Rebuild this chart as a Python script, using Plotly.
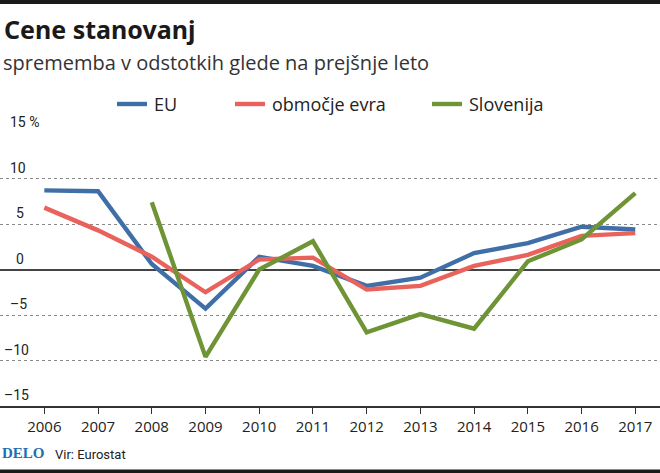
import plotly.graph_objects as go

years = list(range(2006, 2018))
eu = [8.7, 8.6, 0.6, -4.3, 1.4, 0.4, -1.8, -0.9, 1.8, 2.9, 4.7, 4.4]
euro_area = [6.8, 4.3, 1.4, -2.5, 1.1, 1.3, -2.2, -1.8, 0.4, 1.6, 3.7, 4.0]
slo_years = list(range(2008, 2018))
slovenia = [7.4, -9.6, 0.0, 3.1, -6.9, -4.9, -6.5, 0.9, 3.3, 8.4]
ytick_vals = [15, 10, 5, 0, -5, -10, -15]
ytick_text = ["15 %", "10", "5", "0", "–5", "–10", "–15"]

names = ["EU", "območje evra", "Slovenija"]
colors = ["#3f6fa6", "#ea625c", "#6f9436"]

W, H = 660, 473
T, B = 133, 406
PH = B - T

def px(x):
    return x / W

def py(y):
    return (B - y) / PH

fig = go.Figure()
for xs, ys, nm, c in [(years, eu, names[0], colors[0]),
                      (years, euro_area, names[1], colors[1]),
                      (slo_years, slovenia, names[2], colors[2])]:
    fig.add_trace(go.Scatter(x=xs, y=ys, name=nm, mode="lines",
                             line=dict(color=c, width=4.4), showlegend=False))

ann = []
shapes = []
# title / subtitle
ann.append(dict(text="<b>Cene stanovanj</b>", x=px(2), y=py(29), xanchor="left", yanchor="middle",
                font=dict(family="Noto Sans", size=25, color="#1a1a1a")))
ann.append(dict(text="sprememba v odstotkih glede na prejšnje leto", x=px(1), y=py(62),
                xanchor="left", yanchor="middle",
                font=dict(family="Open Sans", size=20, color="#333333")))
# legend
leg_x = [117, 235, 432]
for lx, nm, c in zip(leg_x, names, colors):
    shapes.append(dict(type="line", xref="paper", yref="paper", x0=px(lx), x1=px(lx + 30),
                       y0=py(104), y1=py(104), line=dict(color=c, width=4.4)))
    ann.append(dict(text=nm, x=px(lx + 35), y=py(104), xanchor="left", yanchor="middle",
                    font=dict(family="Open Sans", size=18, color="#222222")))
# y tick labels (left edges as in the reference)
ylab_left = [8, 8, 14, 14, 8, 2, 2]
for v, t, lx in zip(ytick_vals, ytick_text, ylab_left):
    ann.append(dict(text=t, x=px(lx), y=v, yref="y", xanchor="left", yanchor="bottom",
                    yshift=1, font=dict(family="Roboto", size=14, color="#222222")))
# footer
ann.append(dict(text="<b>DELO</b>", x=px(0), y=py(453), xanchor="left", yanchor="middle",
                font=dict(family="Liberation Serif", size=15, color="#1d6fb3")))
ann.append(dict(text="Vir: Eurostat", x=px(53), y=py(454), xanchor="left", yanchor="middle",
                font=dict(family="Roboto", size=13, color="#222222")))
for a in ann:
    a.setdefault("xref", "paper")
    a.setdefault("yref", "paper")
    a["showarrow"] = False

# top / bottom rules
shapes.append(dict(type="line", xref="paper", yref="paper", x0=0, x1=1,
                   y0=py(1.75), y1=py(1.75), line=dict(color="#1a1a1a", width=3.5)))
shapes.append(dict(type="line", xref="paper", yref="paper", x0=0, x1=1,
                   y0=py(471.25), y1=py(471.25), line=dict(color="#1a1a1a", width=3.5)))

fig.update_layout(
    width=W, height=H,
    margin=dict(l=0, r=0, t=T, b=H - B),
    paper_bgcolor="white", plot_bgcolor="white",
    annotations=ann, shapes=shapes,
    xaxis=dict(range=[2005.175, 2017.46], tickvals=years, ticks="outside", ticklen=6,
               tickcolor="#333333", tickwidth=1, showgrid=False, showline=True,
               linecolor="#333333", linewidth=2, zeroline=False,
               tickfont=dict(family="Open Sans", size=15, color="#222222")),
    yaxis=dict(range=[-15, 15], tickvals=ytick_vals, showticklabels=False, ticks="",
               showgrid=True, gridcolor="#8a8a8a", griddash="dot", gridwidth=1,
               zeroline=True, zerolinecolor="#444444", zerolinewidth=2),
)

post = (
    "document.body.style.margin='0';document.body.style.padding='0';"
    "[[0],[469.5]].forEach(function(p){var d=document.createElement('div');"
    "d.style.cssText='position:fixed;left:0;width:660px;height:3.5px;background:#1a1a1a;"
    "z-index:1000;pointer-events:none;top:'+p[0]+'px';document.body.appendChild(d);});"
)
fig.write_html("out.html", config={"displayModeBar": False}, post_script=post)
